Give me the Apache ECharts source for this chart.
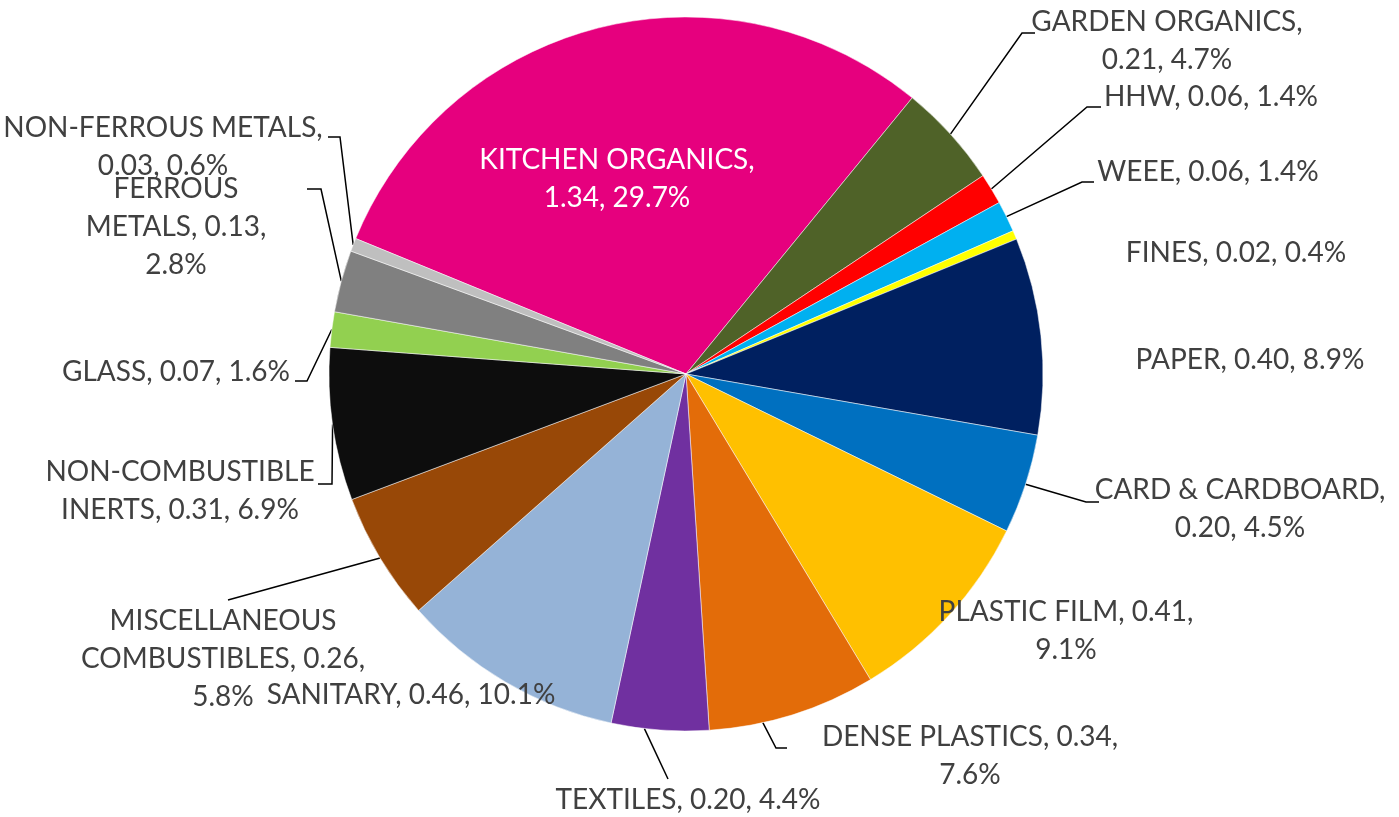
<!DOCTYPE html>
<html><head><meta charset="utf-8">
<script src="https://cdn.jsdelivr.net/npm/echarts/dist/echarts.min.js"></script>
<style>html,body{margin:0;padding:0;background:#fff}#c{width:1399px;height:817px}</style>
</head><body><div id="c"></div>
<script>
// ---- data ----
const categories = ['KITCHEN ORGANICS','GARDEN ORGANICS','HHW','WEEE','FINES','PAPER','CARD & CARDBOARD','PLASTIC FILM','DENSE PLASTICS','TEXTILES','SANITARY','MISCELLANEOUS COMBUSTIBLES','NON-COMBUSTIBLE INERTS','GLASS','FERROUS METALS','NON-FERROUS METALS'];
const values = [1.34,0.21,0.06,0.06,0.02,0.40,0.20,0.41,0.34,0.20,0.46,0.26,0.31,0.07,0.13,0.03];
const percents = [29.7,4.7,1.4,1.4,0.4,8.9,4.5,9.1,7.6,4.4,10.1,5.8,6.9,1.6,2.8,0.6];

// ---- styles / layout ----
const colors = ['#E6007E','#4F6228','#FF0000','#00B0F0','#FFFF00','#002060','#0070C0','#FFC000','#E36C09','#7030A0','#95B3D7','#984807','#0D0D0D','#92D050','#808080','#BFBFBF'];
const PIE_CENTER = [686, 374];
const LINE_H = 38;
// label block centre, words per line, leader line: attach offset from label centre, elbow length, edge shift (deg)
const labelPlace = [
  {x:617,y:179,wrap:[2,2],line:null,color:'#FFFFFF'},
  {x:1167,y:41,wrap:[2,2],line:{dx:-132,dy:-8,elbow:-13}},
  {x:1211,y:97,wrap:null,line:{dx:-110,dy:10,elbow:-14}},
  {x:1208,y:172,wrap:null,line:{dx:-114,dy:10,elbow:-12}},
  {x:1236,y:253,wrap:null,line:null},
  {x:1250,y:360,wrap:null,line:null},
  {x:1240,y:509,wrap:[3,2],line:{dx:-141,dy:-7,elbow:-13}},
  {x:1066,y:631,wrap:[3,1],line:null},
  {x:970,y:756,wrap:[3,1],line:{dx:-183,dy:-8,elbow:-11,shift:5}},
  {x:688,y:800,wrap:null,line:{dx:-20,dy:-21,elbow:0,shift:2.5}},
  {x:411,y:695,wrap:null,line:null},
  {x:223,y:659,wrap:[1,2,1],line:{dx:5,dy:-59,elbow:0}},
  {x:180,y:491,wrap:[1,3],line:{dx:138,dy:-7,elbow:14}},
  {x:176,y:372,wrap:null,line:{dx:119,dy:9,elbow:12}},
  {x:176,y:227,wrap:[1,2,1],line:{dx:131,dy:-38,elbow:14}},
  {x:163,y:147,wrap:[2,2],line:{dx:165,dy:-10,elbow:12}}
];

function labelText(i){
  const s = categories[i] + ', ' + values[i].toFixed(2) + ', ' + percents[i].toFixed(1) + '%';
  const w = labelPlace[i].wrap;
  if(!w) return s;
  const words = s.split(' ');
  const lines = []; let k = 0;
  w.forEach(n => { lines.push(words.slice(k,k+n).join(' ')); k += n; });
  return lines.join('\n');
}

function rotateAbout(pt, deg){
  const d = deg*Math.PI/180;
  const dx = pt[0]-PIE_CENTER[0], dy = pt[1]-PIE_CENTER[1];
  return [PIE_CENTER[0] + dx*Math.cos(d) - dy*Math.sin(d), PIE_CENTER[1] + dx*Math.sin(d) + dy*Math.cos(d)];
}

const data = categories.map((name,i)=>({
  name, value: percents[i],
  itemStyle:{color:colors[i]},
  label:{color: labelPlace[i].color || '#404040'},
  labelLine:{show: !!labelPlace[i].line}
}));

const chart = echarts.init(document.getElementById('c'), null, {renderer:'canvas'});
chart.setOption({
  animation:false,
  backgroundColor:'#fff',
  series:[{
    type:'pie',
    center:PIE_CENTER,
    radius:357,
    startAngle:157.7,
    clockwise:true,
    avoidLabelOverlap:false,
    data,
    itemStyle:{borderColor:'#fff',borderWidth:0.5},
    label:{
      show:true, position:'outside',
      formatter:p=>labelText(p.dataIndex),
      fontFamily:'Lato, "Open Sans", sans-serif',
      fontSize:28, lineHeight:LINE_H, color:'#404040', align:'center'
    },
    labelLine:{show:true,length:15,length2:12,lineStyle:{color:'#000',width:1.5}},
    labelLayout:function(params){
      const p = labelPlace[params.dataIndex];
      const out = {x:p.x, y:p.y, align:'center', verticalAlign:'middle', hideOverlap:false};
      if(p.line && params.labelLinePoints){
        let edge = params.labelLinePoints[0];
        if(p.line.shift) edge = rotateAbout(edge, p.line.shift);
        const end = [p.x + p.line.dx, p.y + p.line.dy];
        const pts = [edge];
        if(p.line.elbow) pts.push([end[0] + p.line.elbow, end[1]]);
        pts.push(end);
        out.labelLinePoints = pts;
      }
      return out;
    },
    emphasis:{disabled:true}
  }]
});
</script>
</body></html>
